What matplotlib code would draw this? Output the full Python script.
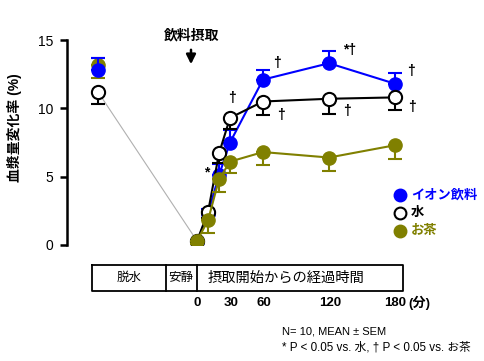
import numpy as np
import matplotlib
matplotlib.use("Agg")
import matplotlib.pyplot as plt

plt.rcParams['font.family'] = ['Liberation Sans', 'Noto Sans CJK JP']

# データ (分): -90 は脱水前
t = [-90, 0, 10, 20, 30, 60, 120, 180]
ion = [12.8, 0.2, 2.3, 5.1, 7.5, 12.1, 13.3, 11.8]
ion_err = [0.9, 0.2, 0.3, 0.8, 0.9, 0.7, 0.9, 0.8]
water = [11.2, 0.3, 2.4, 6.7, 9.3, 10.5, 10.7, 10.8]
water_err = [0.9, 0.2, 0.4, 0.7, 0.8, 1.0, 1.1, 0.9]
tea = [13.2, 0.3, 1.8, 4.8, 6.1, 6.8, 6.4, 7.3]
tea_err = [1.0, 0.2, 0.9, 0.9, 0.8, 0.95, 1.0, 1.0]

olive = '#808000'
blue = '#0000ff'

W, H = 484, 361
fig = plt.figure(figsize=(W / 100, H / 100), dpi=100)


def px(x, y):
    return x / W, 1 - y / H


ax = fig.add_axes([67 / W, (H - 245) / H, 413 / W, 205 / H])
ax.set_xlim(-118.2, 257.3)
ax.set_ylim(0, 15)

# 脱水前→安静 の灰色線
ax.plot([t[0], t[1]], [water[0], water[1]], color='#b0b0b0', lw=0.8, zorder=1)

ek = dict(capsize=5, elinewidth=1.5, capthick=1.5, ls='none')
ax.errorbar(t, ion, yerr=[np.zeros(len(t)), ion_err], ecolor=blue, zorder=2, **ek)
ax.plot(t[1:], ion[1:], color=blue, lw=1.5, zorder=2)
ax.plot(t[1:], ion[1:], 'o', color=blue, ms=9.5, zorder=2.5)

ax.errorbar(t, water, yerr=[water_err, np.zeros(len(t))], ecolor='black', zorder=3, **ek)
ax.plot(t[1:], water[1:], color='black', lw=1.5, zorder=3)
ax.plot(t, water, 'o', mfc='white', mec='black', mew=1.5, ms=9.5, zorder=3.5)

ax.errorbar(t, tea, yerr=[tea_err, np.zeros(len(t))], ecolor=olive, zorder=4, **ek)
ax.plot(t[1:], tea[1:], color=olive, lw=1.5, zorder=4)
ax.plot(t, tea, 'o', color=olive, ms=9.5, zorder=4.5)
# 脱水前のイオン飲料は前面
ax.errorbar(t[:1], ion[:1], yerr=[[0], ion_err[:1]], ecolor=blue, zorder=5, **ek)
ax.plot(t[:1], ion[:1], 'o', color=blue, ms=9.5, zorder=5.5)

for s in ['top', 'right', 'bottom']:
    ax.spines[s].set_visible(False)
ax.spines['left'].set_linewidth(1.8)
ax.set_xticks([])
ax.set_yticks([0, 5, 10, 15])
ax.tick_params(axis='y', length=5, width=1.8, labelsize=10, pad=5)

fig.text(*px(15, 128), '血漿量変化率 (%)', fontsize=10, fontweight='bold', rotation=90,
         ha='center', va='center')

# 有意差記号
marks = [(277, 63, '†'), (350, 50, '*†'), (411, 71, '†'), (281, 115, '†'),
         (347, 111, '†'), (412, 107, '†'), (232, 98, '†'), (207, 172, '*')]
for x, y, s in marks:
    fig.text(*px(x, y), s, fontsize=10, fontweight='bold', ha='center', va='center')

fig.text(*px(192, 35), '飲料摂取', fontsize=10, fontweight='bold', ha='center', va='center')
ax.annotate('', xy=px(191, 67), xytext=px(191, 47), xycoords='figure fraction',
            textcoords='figure fraction',
            arrowprops=dict(arrowstyle='-|>', color='black', lw=1.8, mutation_scale=14))

# 凡例
leg = [(195, 'イオン飲料', blue, blue), (213, '水', 'white', 'black'), (231, 'お茶', olive, olive)]
for y, lab, fc, c in leg:
    fig.lines.append(plt.Line2D([400 / W], [1 - y / H], marker='o', ms=8.5, mfc=fc,
                                mec='black' if fc == 'white' else fc, mew=1.5,
                                transform=fig.transFigure, ls='none'))
    fig.text(*px(411, y), lab, fontsize=9.5, fontweight='bold', color=c, va='center')

# 下の表
box = [(92, 265), (403, 265), (403, 291), (92, 291), (92, 265)]
xs, ys = zip(*[px(x, y) for x, y in box])
fig.lines.append(plt.Line2D(xs, ys, color='black', lw=1.3, transform=fig.transFigure))
for xd in [166, 197]:
    fig.lines.append(plt.Line2D([xd / W] * 2, [1 - 265 / H, 1 - 291 / H], color='black',
                                lw=1.3, transform=fig.transFigure))
fig.text(*px(129, 278), '脱水', fontsize=9, ha='center', va='center')
fig.text(*px(181, 278), '安静', fontsize=9, ha='center', va='center')
fig.text(*px(286, 278), '摂取開始からの経過時間', fontsize=10.3, ha='center', va='center')

xlab = [(197, '0'), (231, '30'), (264, '60'), (330, '120'), (395, '180')]
for x, s in xlab:
    fig.text(*px(x, 303), s, fontsize=9.5, fontweight='bold', ha='center', va='center')
fig.text(*px(408, 303), '(分)', fontsize=9.5, fontweight='bold', ha='left', va='center')

fig.text(*px(282, 331), 'N= 10, MEAN ± SEM', fontsize=8, ha='left', va='center')
fig.text(*px(282, 348), '* P < 0.05 vs. 水, † P < 0.05 vs. お茶', fontsize=8.4,
         ha='left', va='center')

fig.savefig('out.png', dpi=100)
